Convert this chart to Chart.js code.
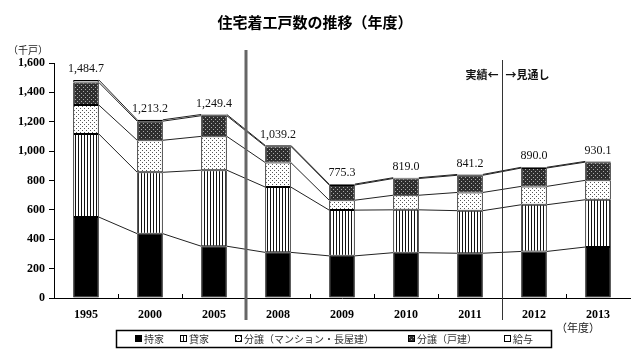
<!DOCTYPE html>
<html><head><meta charset="utf-8">
<script src="https://cdn.jsdelivr.net/npm/chart.js@4"></script>
<style>html,body{margin:0;padding:0;background:#fff;}canvas{display:block;}</style>
</head><body>
<canvas id="c" width="640" height="360"></canvas>
<script>
const categories = ['1995','2000','2005','2008','2009','2010','2011','2012','2013'];
const seriesLabels = ['持家','貸家','分譲（マンション・長屋建）','分譲（戸建）','給与'];
const mochiie      = [551, 438, 352.6, 310.7, 286.9, 308.5, 304.8, 317, 347];
const kashiya      = [566, 418, 517.9, 444.8, 311.5, 291.8, 289.8, 318, 322];
const bunjoMansion = [197, 218, 230, 167, 67.4, 99.3, 124, 125, 132];
const bunjoKodate  = [154, 130, 140.6, 110.7, 103.5, 114, 117, 125, 124];
const kyuyo        = [16.7, 9.2, 8.3, 6, 6, 5.4, 5.6, 5, 5.1];
const yTicks = [0,200,400,600,800,1000,1200,1400,1600];

function makePattern(w, h, draw){
  const c = document.createElement('canvas'); c.width = w; c.height = h;
  const g = c.getContext('2d'); draw(g, w, h);
  return g.createPattern(c, 'repeat');
}
const pSolid = '#000';
const pStripe = makePattern(3, 3, (g)=>{ g.fillStyle='#fff'; g.fillRect(0,0,3,3); g.fillStyle='#111'; g.fillRect(0,0,1,3); });
const pDots = makePattern(4, 4, (g)=>{ g.fillStyle='#fff'; g.fillRect(0,0,4,4); g.fillStyle='#555'; g.fillRect(0,0,1,1); g.fillRect(2,2,1,1); });
const pDark = makePattern(4, 4, (g)=>{ g.fillStyle='#2e2e2e'; g.fillRect(0,0,4,4); g.fillStyle='#aaa'; g.fillRect(1,1,1,1); g.fillRect(3,3,1,1); });
const fills = [pSolid, pStripe, pDots, pDark, '#fff'];
const seriesData = [mochiie, kashiya, bunjoMansion, bunjoKodate, kyuyo];

function fmt(v, dec){
  const s = v.toFixed(dec);
  const parts = s.split('.');
  parts[0] = parts[0].replace(/\B(?=(\d{3})+(?!\d))/g, ',');
  return parts.join('.');
}

const overlay = {
  id: 'overlay',
  afterDatasetsDraw(chart){
    const c = chart.ctx;
    const xs = chart.scales.x, area = chart.chartArea;
    c.save();
    c.strokeStyle = '#222'; c.lineWidth = 1;
    for (let d = 0; d < seriesData.length; d++){
      const meta = chart.getDatasetMeta(d);
      for (let i = 0; i < categories.length - 1; i++){
        const a = meta.data[i], b = meta.data[i+1];
        c.beginPath();
        c.moveTo(a.x + a.width/2, a.y);
        c.lineTo(b.x - b.width/2, b.y);
        c.stroke();
      }
    }
    const topMeta = chart.getDatasetMeta(seriesData.length - 1);
    c.fillStyle = '#111';
    c.font = '12px "Liberation Serif"';
    c.textAlign = 'center'; c.textBaseline = 'bottom';
    for (let i = 0; i < categories.length; i++){
      let t = 0; seriesData.forEach(s => t += s[i]);
      const el = topMeta.data[i];
      c.fillText(fmt(t, 1), el.x, el.y - 5);
    }
    c.strokeStyle = '#000'; c.lineWidth = 1;
    for (let i = 1; i < categories.length; i++){
      const bx = Math.round((xs.getPixelForValue(i-1) + xs.getPixelForValue(i)) / 2) + 0.5;
      c.beginPath(); c.moveTo(bx, area.bottom); c.lineTo(bx, area.bottom - 4); c.stroke();
    }
    const s1 = (xs.getPixelForValue(2) + xs.getPixelForValue(3)) / 2;
    c.strokeStyle = '#666'; c.lineWidth = 3;
    c.beginPath(); c.moveTo(s1, 50); c.lineTo(s1, 320); c.stroke();
    const s2 = Math.round((xs.getPixelForValue(6) + xs.getPixelForValue(7)) / 2) + 0.5;
    c.strokeStyle = '#333'; c.lineWidth = 1;
    c.beginPath(); c.moveTo(s2, 60); c.lineTo(s2, 320); c.stroke();
    c.fillStyle = '#111';
    c.font = 'bold 11px "Noto Sans CJK JP"';
    c.textBaseline = 'middle';
    c.textAlign = 'right'; c.fillText('実績←', s2 - 4, 75);
    c.textAlign = 'left'; c.fillText('→見通し', s2 + 3, 75);
    c.restore();
  },
  afterDraw(chart){
    const c = chart.ctx;
    c.save();
    c.fillStyle = '#000';
    c.font = 'bold 15px "Noto Sans CJK JP"';
    c.textAlign = 'center'; c.textBaseline = 'middle';
    c.fillText('住宅着工戸数の推移（年度）', 315, 22);
    c.font = '10px "Noto Sans CJK JP"';
    c.fillStyle = '#222';
    c.textAlign = 'left';
    c.fillText('（千戸）', 8, 50);
    c.font = '11px "Noto Sans CJK JP"';
    c.fillText('（年度）', 556, 328);
    c.strokeStyle = '#000'; c.lineWidth = 1.5;
    c.strokeRect(116.5, 330.5, 435, 17);
    const lx = [135, 180, 235, 408, 504];
    c.font = '10px "Noto Sans CJK JP"';
    c.textBaseline = 'middle';
    for (let k = 0; k < seriesLabels.length; k++){
      c.fillStyle = fills[k];
      c.fillRect(lx[k], 335, 7, 7);
      c.strokeStyle = '#000'; c.lineWidth = 1;
      c.strokeRect(lx[k] + 0.5, 335.5, 6, 6);
      c.fillStyle = '#333';
      c.fillText(seriesLabels[k], lx[k] + 9, 339);
    }
    c.restore();
  }
};

new Chart(document.getElementById('c'), {
  type: 'bar',
  data: {
    labels: categories,
    datasets: seriesData.map((d, k) => ({
      label: seriesLabels[k],
      data: d,
      backgroundColor: fills[k],
      borderColor: '#000',
      borderWidth: 1,
      borderSkipped: false,
      barPercentage: 0.4,
      categoryPercentage: 1.0
    }))
  },
  options: {
    responsive: false,
    animation: false,
    devicePixelRatio: 1,
    layout: { padding: { left: 0, right: 10, top: 63, bottom: 0 } },
    plugins: { legend: { display: false }, tooltip: { enabled: false }, title: { display: false } },
    scales: {
      x: {
        stacked: true,
        grid: { display: false },
        border: { display: true, color: '#000', width: 1 },
        ticks: { color: '#000', font: { family: 'Liberation Serif', size: 12, weight: 'bold' }, padding: 2 },
        afterFit: s => { s.height = 62; }
      },
      y: {
        stacked: true,
        min: 0, max: 1600,
        afterBuildTicks: s => { s.ticks = yTicks.map(v => ({ value: v })); },
        grid: { drawOnChartArea: false, drawTicks: true, tickLength: 5, color: '#000' },
        border: { display: true, color: '#000', width: 1 },
        ticks: { color: '#000', font: { family: 'Liberation Serif', size: 12, weight: 'bold' }, padding: 4,
          callback: v => fmt(v, 0) },
        afterFit: s => { s.width = 54; }
      }
    }
  },
  plugins: [overlay]
});
</script>
</body></html>
